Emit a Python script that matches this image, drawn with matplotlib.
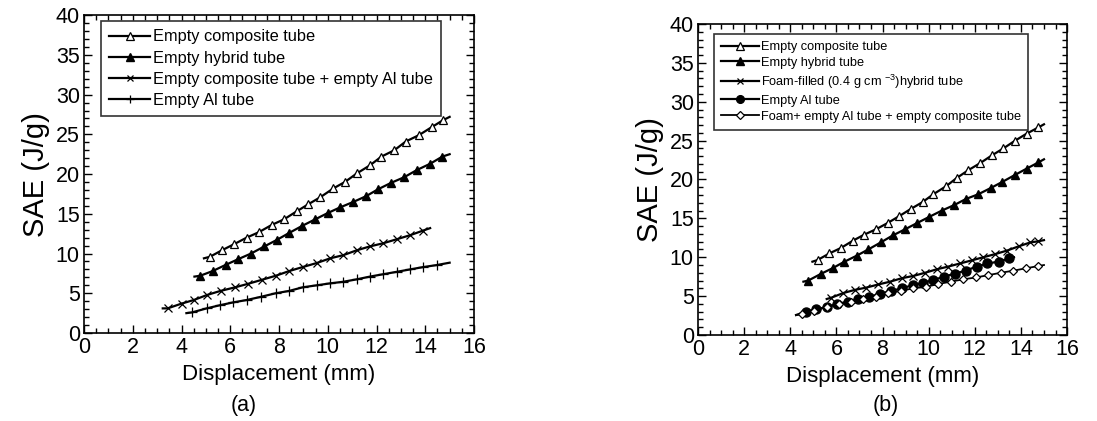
import numpy as np
import matplotlib
matplotlib.use('Agg')
import matplotlib.pyplot as plt
from matplotlib.ticker import MultipleLocator

plt.rcParams['font.family'] = ['Liberation Sans', 'DejaVu Sans']
plt.rcParams['mathtext.default'] = 'regular'

# ---- panel (a) data: first and last points are line ends, the rest carry markers
a_comp_x = [4.92, 5.17, 5.65, 6.17, 6.67, 7.18, 7.70, 8.20, 8.72, 9.20, 9.70, 10.23, 10.70, 11.20, 11.73, 12.20, 12.73, 13.20, 13.74, 14.26, 14.74, 15.0]
a_comp_y = [9.4, 9.6, 10.4, 11.2, 12.0, 12.7, 13.6, 14.3, 15.3, 16.2, 17.1, 18.2, 19.0, 20.1, 21.1, 22.2, 23.0, 24.1, 24.9, 25.9, 26.8, 27.2]

a_hyb_x = [4.53, 4.76, 5.28, 5.83, 6.33, 6.85, 7.40, 7.90, 8.42, 8.96, 9.48, 10.0, 10.5, 11.05, 11.56, 12.07, 12.60, 13.13, 13.65, 14.20, 14.70, 15.0]
a_hyb_y = [7.1, 7.2, 7.8, 8.6, 9.3, 10.0, 10.9, 11.7, 12.6, 13.5, 14.3, 15.1, 15.8, 16.5, 17.2, 18.1, 18.9, 19.6, 20.5, 21.3, 22.2, 22.5]

a_compal_x = [3.23, 3.43, 4.0, 4.5, 5.06, 5.6, 6.2, 6.74, 7.3, 7.86, 8.42, 8.97, 9.54, 10.1, 10.64, 11.18, 11.73, 12.28, 12.83, 13.37, 13.92, 14.2]
a_compal_y = [3.1, 3.1, 3.7, 4.15, 4.8, 5.3, 5.75, 6.2, 6.7, 7.2, 7.8, 8.3, 8.8, 9.4, 9.8, 10.4, 10.9, 11.3, 11.8, 12.3, 12.9, 13.2]

a_al_x = [4.2, 4.44, 5.03, 5.58, 6.13, 6.67, 7.28, 7.86, 8.42, 8.97, 9.54, 10.1, 10.64, 11.18, 11.73, 12.28, 12.83, 13.37, 13.92, 14.47, 15.0]
a_al_y = [2.5, 2.6, 3.1, 3.5, 3.86, 4.15, 4.57, 5.0, 5.3, 5.75, 6.0, 6.25, 6.45, 6.75, 7.1, 7.4, 7.7, 8.0, 8.3, 8.55, 8.85]

# ---- panel (b) data
b_comp_x = [4.96, 5.19, 5.7, 6.2, 6.7, 7.2, 7.72, 8.22, 8.73, 9.22, 9.74, 10.2, 10.74, 11.22, 11.72, 12.23, 12.74, 13.24, 13.75, 14.25, 14.76, 15.0]
b_comp_y = [9.43, 9.65, 10.5, 11.2, 12.1, 12.9, 13.6, 14.4, 15.3, 16.2, 17.1, 18.1, 19.1, 20.2, 21.2, 22.1, 23.1, 24.0, 25.0, 25.9, 26.7, 27.1]

b_hyb_x = [4.57, 4.78, 5.32, 5.84, 6.33, 6.88, 7.38, 7.92, 8.44, 8.98, 9.5, 10.03, 10.57, 11.1, 11.62, 12.15, 12.69, 13.2, 13.75, 14.25, 14.76, 15.0]
b_hyb_y = [6.86, 7.0, 7.85, 8.6, 9.4, 10.2, 11.0, 11.9, 12.8, 13.6, 14.4, 15.2, 16.0, 16.7, 17.5, 18.1, 18.9, 19.7, 20.6, 21.4, 22.2, 22.6]

b_foam_x = [5.58, 5.78, 6.3, 6.8, 7.3, 7.82, 8.33, 8.83, 9.34, 9.84, 10.35, 10.85, 11.36, 11.87, 12.37, 12.88, 13.39, 13.9, 14.4, 14.75, 15.0]
b_foam_y = [4.63, 4.8, 5.4, 5.8, 6.1, 6.5, 6.86, 7.3, 7.6, 8.0, 8.45, 8.8, 9.2, 9.6, 10.0, 10.4, 10.85, 11.4, 11.9, 12.05, 12.2]

b_al_x = [4.25, 4.68, 5.12, 5.58, 6.04, 6.52, 6.95, 7.43, 7.9, 8.36, 8.83, 9.3, 9.74, 10.2, 10.67, 11.14, 11.6, 12.08, 12.55, 13.03, 13.49, 13.7]
b_al_y = [2.57, 3.0, 3.3, 3.6, 4.0, 4.3, 4.6, 4.9, 5.3, 5.66, 6.0, 6.4, 6.7, 7.07, 7.5, 7.9, 8.27, 8.8, 9.2, 9.43, 9.86, 10.0]

b_mix_x = [4.25, 4.5, 5.03, 5.58, 6.13, 6.63, 7.17, 7.72, 8.25, 8.8, 9.34, 9.89, 10.42, 10.96, 11.5, 12.05, 12.59, 13.12, 13.67, 14.2, 14.76, 15.0]
b_mix_y = [2.55, 2.7, 3.13, 3.6, 4.0, 4.3, 4.6, 4.85, 5.36, 5.7, 6.0, 6.2, 6.56, 6.86, 7.16, 7.4, 7.7, 8.0, 8.27, 8.57, 8.87, 9.0]

fig = plt.figure(figsize=(10.97, 4.21), dpi=100)
ax1 = fig.add_axes([0.0766, 0.209, 0.3555, 0.755])
ax2 = fig.add_axes([0.6363, 0.2043, 0.3364, 0.7387])

ms = slice(1, -1)
ax1.plot(a_comp_x, a_comp_y, 'k-', lw=1.6, marker='^', mfc='white', mec='k', mew=0.9, ms=6, markevery=ms, label='Empty composite tube')
ax1.plot(a_hyb_x, a_hyb_y, 'k-', lw=1.6, marker='^', mfc='k', mec='k', ms=6, markevery=ms, label='Empty hybrid tube')
ax1.plot(a_compal_x, a_compal_y, 'k-', lw=1.6, marker='x', mec='k', mew=0.9, ms=5.5, markevery=ms, label='Empty composite tube + empty Al tube')
ax1.plot(a_al_x, a_al_y, 'k-', lw=1.6, marker='+', mec='k', mew=0.9, ms=6.5, markevery=ms, label='Empty Al tube')

ax2.plot(b_comp_x, b_comp_y, 'k-', lw=1.6, marker='^', mfc='white', mec='k', mew=0.9, ms=6, markevery=ms, label='Empty composite tube')
ax2.plot(b_hyb_x, b_hyb_y, 'k-', lw=1.6, marker='^', mfc='k', mec='k', ms=6, markevery=ms, label='Empty hybrid tube')
ax2.plot(b_foam_x, b_foam_y, 'k-', lw=1.6, marker='x', mec='k', mew=0.9, ms=5.5, markevery=ms, label=r'Foam-filled (0.4 g cm $^{-3}$)hybrid tube')
ax2.plot(b_al_x, b_al_y, 'k-', lw=1.6, marker='o', mfc='k', mec='k', ms=6.5, markevery=ms, label='Empty Al tube')
ax2.plot(b_mix_x, b_mix_y, 'k-', lw=1.3, marker='D', mfc='white', mec='k', mew=0.9, ms=4.5, markevery=ms, label='Foam+ empty Al tube + empty composite tube')

for ax in (ax1, ax2):
    ax.set_xlim(0, 16)
    ax.set_ylim(0, 40)
    ax.xaxis.set_major_locator(MultipleLocator(2))
    ax.xaxis.set_minor_locator(MultipleLocator(0.5))
    ax.yaxis.set_major_locator(MultipleLocator(5))
    ax.yaxis.set_minor_locator(MultipleLocator(1))
    ax.tick_params(which='both', direction='in', top=True, right=True, labelsize=15.5, pad=3)
    ax.tick_params(which='major', length=6, width=1)
    ax.tick_params(which='minor', length=3.5, width=1)
    for s in ax.spines.values():
        s.set_linewidth(1.2)
    ax.set_xlabel('Displacement (mm)', fontsize=16, labelpad=4)
    ax.set_ylabel('SAE (J/g)', fontsize=21, labelpad=4)

leg1 = ax1.legend(loc='upper left', bbox_to_anchor=(0.0436, 0.981), borderaxespad=0, fontsize=11.8,
                  handlelength=2.5, handletextpad=0.15, labelspacing=0.38, borderpad=0.5,
                  markerscale=0.85, fancybox=False, framealpha=1, edgecolor='#333333')
leg1.get_frame().set_linewidth(1.2)
leg2 = ax2.legend(loc='upper left', bbox_to_anchor=(0.0434, 0.968), borderaxespad=0, fontsize=9.2,
                  handlelength=3.0, handletextpad=0.15, labelspacing=0.3, borderpad=0.55,
                  markerscale=0.85, fancybox=False, framealpha=1, edgecolor='#333333')
leg2.get_frame().set_linewidth(1.2)

fig.text(244 / 1097, 1 - 405 / 421, '(a)', fontsize=15.5, ha='center', va='center')
fig.text(886 / 1097, 1 - 405 / 421, '(b)', fontsize=15.5, ha='center', va='center')

fig.savefig('out.png', dpi=100)
